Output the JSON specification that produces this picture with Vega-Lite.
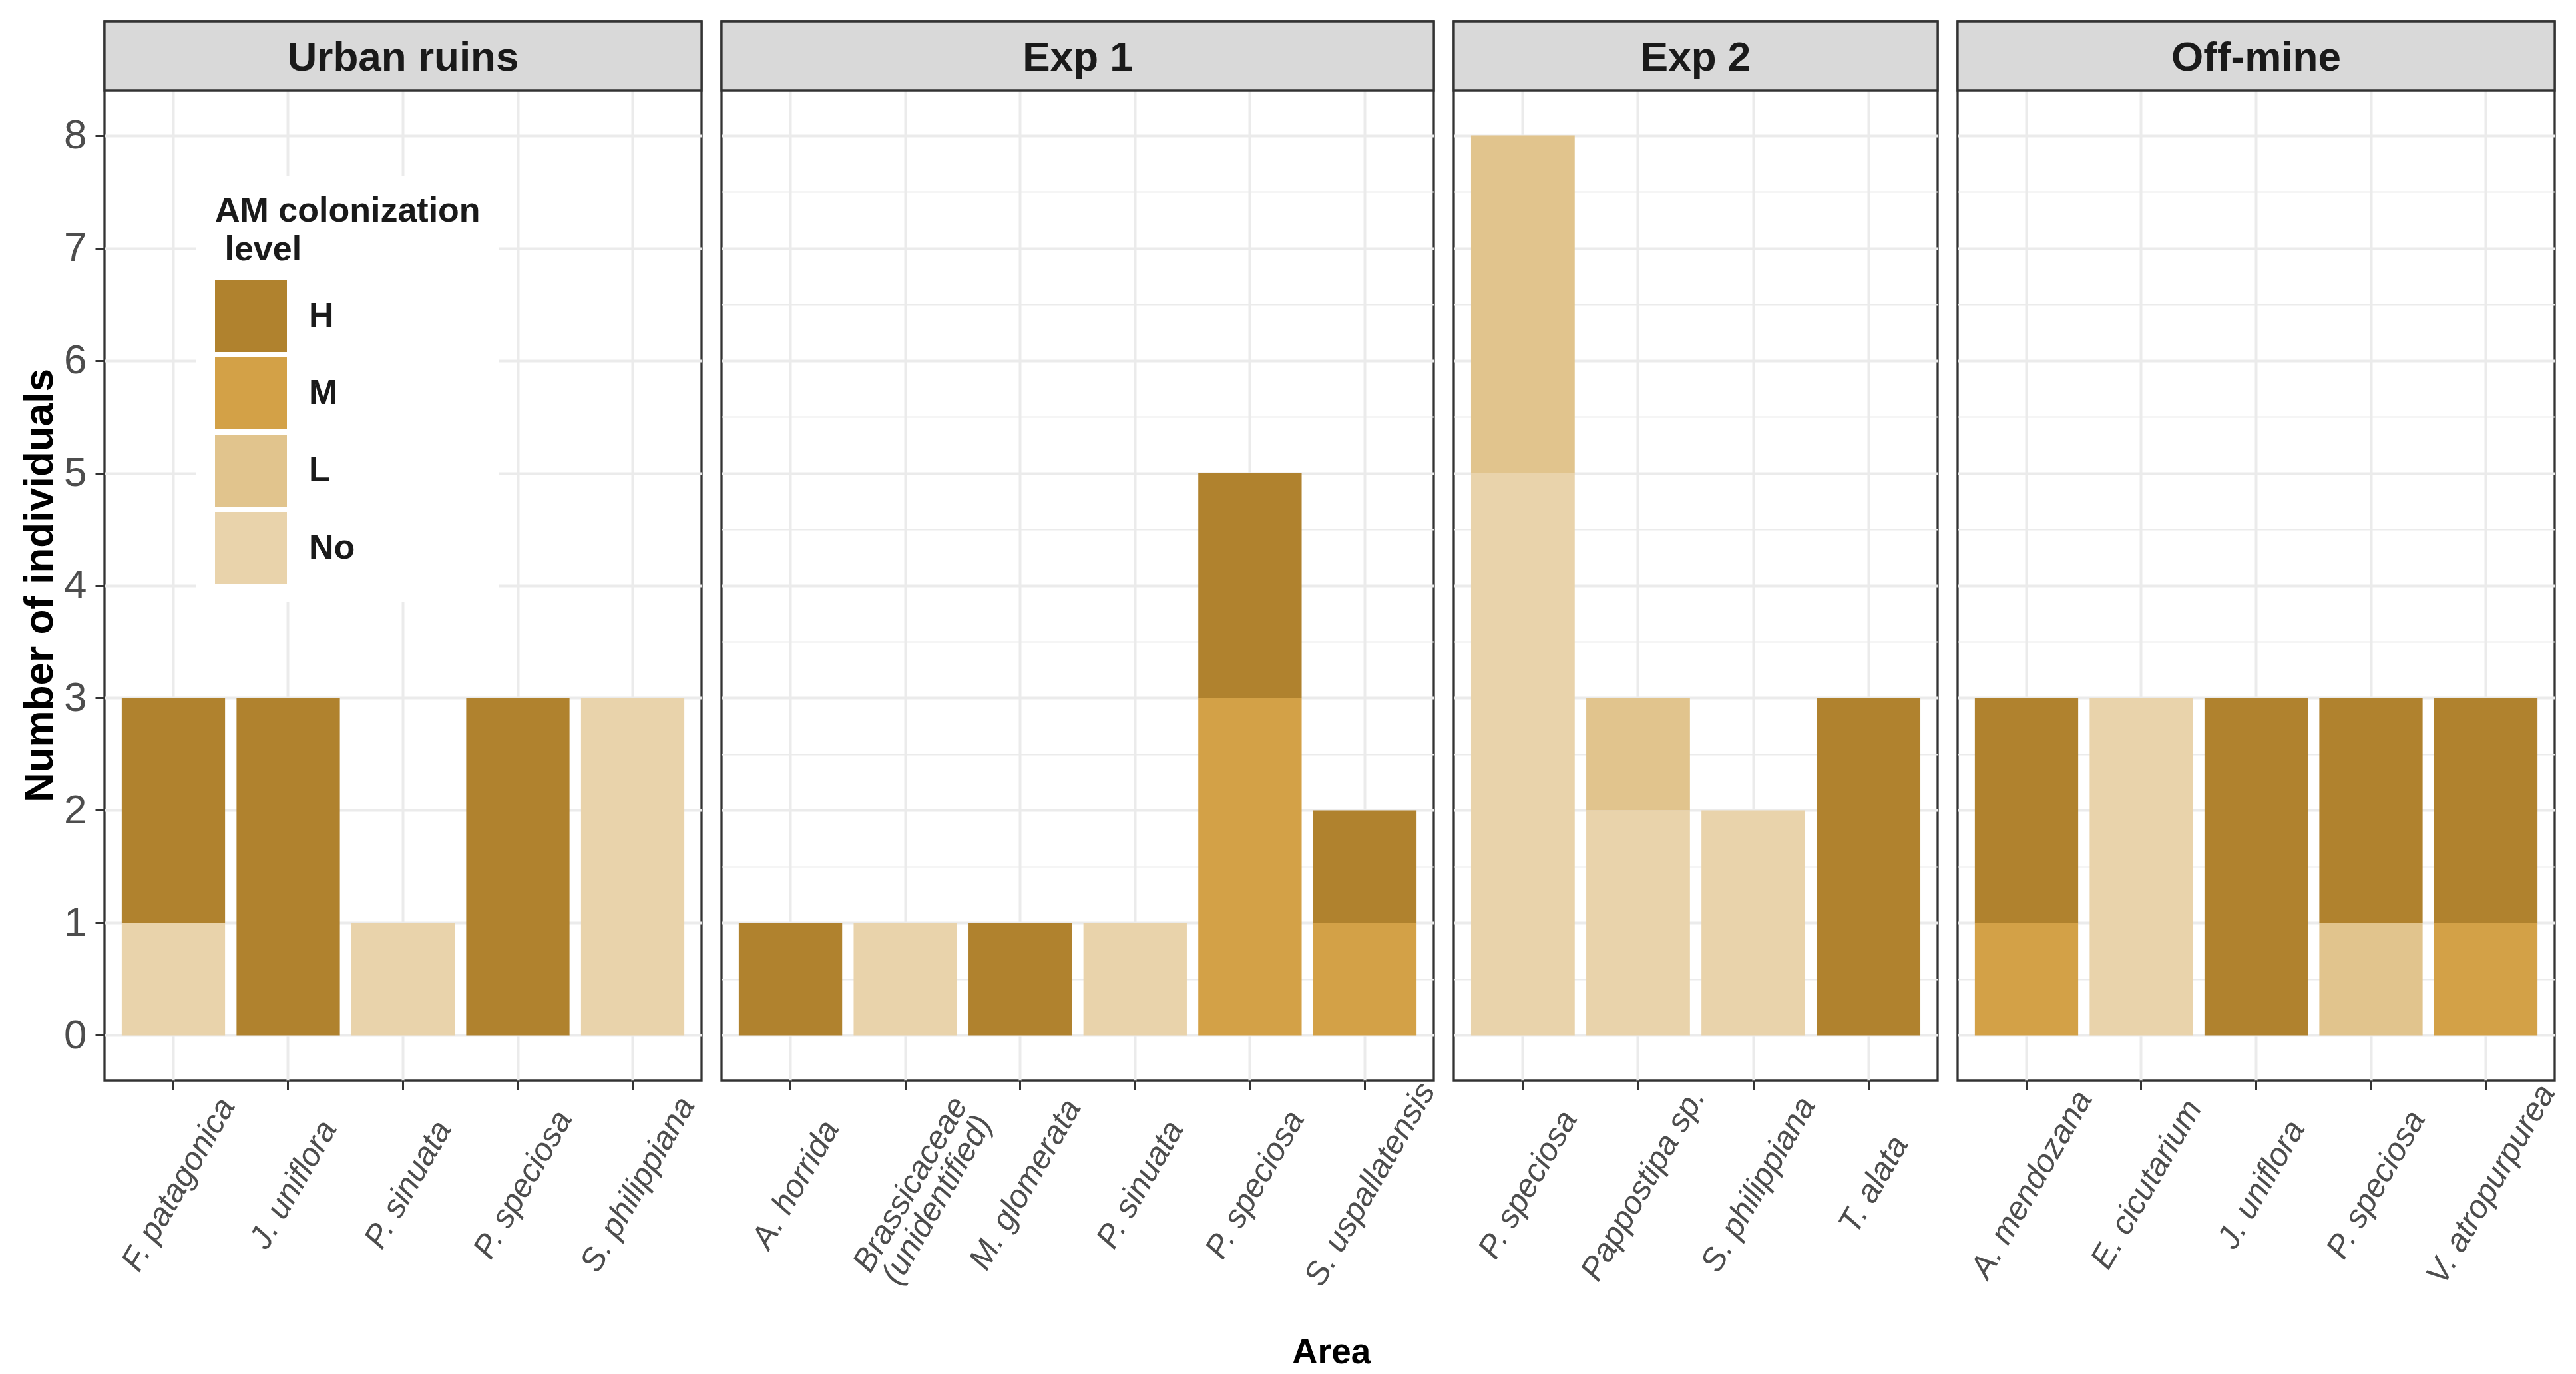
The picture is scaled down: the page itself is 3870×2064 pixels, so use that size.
{
  "$schema": "https://vega.github.io/schema/vega-lite/v6.json",
  "background": "white",
  "padding": {"left": 26, "top": 28, "right": 0, "bottom": 8},
  "bounds": "flush",
  "spacing": 30,
  "title": {"text": "Area", "orient": "bottom", "anchor": "middle", "fontSize": 53, "fontWeight": "bold", "color": "#000000", "offset": 62, "dx": 62, "font": "Liberation Sans"},
  "config": {
    "font": "Liberation Sans",
    "view": {"stroke": "#333333", "strokeWidth": 3.3},
    "axisX": {"title": null, "labelAngle": -60, "labelAlign": "center", "labelBaseline": "middle", "labelPadding": 142, "labelOffset": 8, "labelFontStyle": "italic", "labelFontSize": 49, "labelColor": "#4D4D4D", "labelLineHeight": 46, "labelLimit": 0, "labelOverlap": false, "labelBound": false, "tickSize": 14, "tickWidth": 3, "tickColor": "#333333", "domain": false, "grid": true, "gridColor": "#EBEBEB", "gridWidth": 4, "bandPosition": 0.5},
    "axisY": {"grid": true, "gridColor": "#EBEBEB", "domain": false},
    "text": {"fontSize": 62, "fontWeight": "bold", "color": "#1A1A1A", "baseline": "middle", "align": "center"},
    "rect": {"fill": "#D9D9D9", "stroke": "#333333", "strokeWidth": 3.3}
  },
  "datasets": {
    "counts": [
      {"area": "Urban ruins", "species": "F. patagonica", "level": "No", "count": 1},
      {"area": "Urban ruins", "species": "F. patagonica", "level": "H", "count": 2},
      {"area": "Urban ruins", "species": "J. uniflora", "level": "H", "count": 3},
      {"area": "Urban ruins", "species": "P. sinuata", "level": "No", "count": 1},
      {"area": "Urban ruins", "species": "P. speciosa", "level": "H", "count": 3},
      {"area": "Urban ruins", "species": "S. philippiana", "level": "No", "count": 3},
      {"area": "Exp 1", "species": "A. horrida", "level": "H", "count": 1},
      {"area": "Exp 1", "species": "Brassicaceae (unidentified)", "level": "No", "count": 1},
      {"area": "Exp 1", "species": "M. glomerata", "level": "H", "count": 1},
      {"area": "Exp 1", "species": "P. sinuata", "level": "No", "count": 1},
      {"area": "Exp 1", "species": "P. speciosa", "level": "M", "count": 3},
      {"area": "Exp 1", "species": "P. speciosa", "level": "H", "count": 2},
      {"area": "Exp 1", "species": "S. uspallatensis", "level": "M", "count": 1},
      {"area": "Exp 1", "species": "S. uspallatensis", "level": "H", "count": 1},
      {"area": "Exp 2", "species": "P. speciosa", "level": "No", "count": 5},
      {"area": "Exp 2", "species": "P. speciosa", "level": "L", "count": 3},
      {"area": "Exp 2", "species": "Pappostipa sp.", "level": "No", "count": 2},
      {"area": "Exp 2", "species": "Pappostipa sp.", "level": "L", "count": 1},
      {"area": "Exp 2", "species": "S. philippiana", "level": "No", "count": 2},
      {"area": "Exp 2", "species": "T. alata", "level": "H", "count": 3},
      {"area": "Off-mine", "species": "A. mendozana", "level": "M", "count": 1},
      {"area": "Off-mine", "species": "A. mendozana", "level": "H", "count": 2},
      {"area": "Off-mine", "species": "E. cicutarium", "level": "No", "count": 3},
      {"area": "Off-mine", "species": "J. uniflora", "level": "H", "count": 3},
      {"area": "Off-mine", "species": "P. speciosa", "level": "L", "count": 1},
      {"area": "Off-mine", "species": "P. speciosa", "level": "H", "count": 2},
      {"area": "Off-mine", "species": "V. atropurpurea", "level": "M", "count": 1},
      {"area": "Off-mine", "species": "V. atropurpurea", "level": "H", "count": 2}
    ]
  },
  "hconcat": [
    {
      "width": 897, "height": 1591,
      "layer": [
        {
          "data": {"name": "counts"},
          "transform": [{"filter": "datum.area === 'Urban ruins'"}],
          "mark": {"type": "bar"},
          "encoding": {
            "x": {"field": "species", "type": "nominal", "scale": {"paddingInner": 0.1, "paddingOuter": 0.15}},
            "y": {"field": "count", "type": "quantitative", "stack": "zero",
                  "scale": {"domain": [-0.4, 9.0155], "nice": false, "zero": false},
                  "axis": {"values": [0, 0.5, 1, 1.5, 2, 2.5, 3, 3.5, 4, 4.5, 5, 5.5, 6, 6.5, 7, 7.5, 8],
                           "format": "d",
                           "labelExpr": "datum.value % 1 === 0 ? datum.label : ''",
                           "tickOpacity": {"condition": {"test": "datum.value % 1 !== 0", "value": 0}, "value": 1},
                           "gridWidth": {"condition": {"test": "datum.value % 1 !== 0", "value": 2.2}, "value": 4},
                           "title": "Number of individuals", "titleFontSize": 62, "titleFontWeight": "bold", "titleColor": "#000000", "titlePadding": 4, "titleY": 847,
                           "labelFontSize": 62, "labelColor": "#4D4D4D", "labelPadding": 13,
                           "tickSize": 14, "tickWidth": 3, "tickColor": "#333333"}},
            "color": {"field": "level", "type": "nominal", "sort": ["No", "L", "M", "H"],
                      "scale": {"range": ["#E9D3AB", "#E1C48D", "#D3A147", "#B0822E"]},
                      "legend": {"orient": "none", "legendX": 138, "legendY": 232,
                                 "title": ["AM colonization", "\u200b\u00a0level"], "titleFontSize": 52, "titleFontWeight": "bold", "titleColor": "#1A1A1A", "titleLineHeight": 58, "titlePadding": 19, "titleAnchor": "start", "titleLimit": 0,
                                 "values": ["H", "M", "L", "No"], "symbolType": "square", "symbolSize": 11664, "symbolStrokeWidth": 0, "symbolOpacity": 1,
                                 "labelFontSize": 52, "labelFontWeight": "bold", "labelColor": "#1A1A1A", "labelOffset": 33, "labelLimit": 0,
                                 "rowPadding": 8, "padding": 28, "fillColor": "white"}}
          }
        },
        {
          "data": {"values": [{"area": "Urban ruins"}]},
          "mark": {"type": "rect"},
          "encoding": {"y": {"datum": 8.4}, "y2": {"datum": 9.0155}}
        },
        {
          "data": {"values": [{"area": "Urban ruins"}]},
          "mark": {"type": "text", "dy": 3},
          "encoding": {"y": {"datum": 8.7078}, "text": {"field": "area"}}
        }
      ]
    },
    {
      "width": 1070, "height": 1591,
      "layer": [
        {
          "data": {"name": "counts"},
          "transform": [{"filter": "datum.area === 'Exp 1'"}],
          "mark": {"type": "bar"},
          "encoding": {
            "x": {"field": "species", "type": "nominal", "scale": {"paddingInner": 0.1, "paddingOuter": 0.15},
                  "axis": {"labelExpr": "datum.label === 'Brassicaceae (unidentified)' ? ['Brassicaceae', '(unidentified)'] : datum.label"}},
            "y": {"field": "count", "type": "quantitative", "stack": "zero",
                  "scale": {"domain": [-0.4, 9.0155], "nice": false, "zero": false},
                  "axis": {"values": [0, 0.5, 1, 1.5, 2, 2.5, 3, 3.5, 4, 4.5, 5, 5.5, 6, 6.5, 7, 7.5, 8],
                           "labels": false, "ticks": false, "title": null,
                           "gridWidth": {"condition": {"test": "datum.value % 1 !== 0", "value": 2.2}, "value": 4}}},
            "color": {"field": "level", "type": "nominal", "sort": ["No", "L", "M", "H"],
                      "scale": {"range": ["#E9D3AB", "#E1C48D", "#D3A147", "#B0822E"]},
                      "legend": {"orient": "none", "legendX": 138, "legendY": 232,
                                 "title": ["AM colonization", "\u200b\u00a0level"], "titleFontSize": 52, "titleFontWeight": "bold", "titleColor": "#1A1A1A", "titleLineHeight": 58, "titlePadding": 19, "titleAnchor": "start", "titleLimit": 0,
                                 "values": ["H", "M", "L", "No"], "symbolType": "square", "symbolSize": 11664, "symbolStrokeWidth": 0, "symbolOpacity": 1,
                                 "labelFontSize": 52, "labelFontWeight": "bold", "labelColor": "#1A1A1A", "labelOffset": 33, "labelLimit": 0,
                                 "rowPadding": 8, "padding": 28, "fillColor": "white"}}
          }
        },
        {
          "data": {"values": [{"area": "Exp 1"}]},
          "mark": {"type": "rect"},
          "encoding": {"y": {"datum": 8.4}, "y2": {"datum": 9.0155}}
        },
        {
          "data": {"values": [{"area": "Exp 1"}]},
          "mark": {"type": "text", "dy": 3},
          "encoding": {"y": {"datum": 8.7078}, "text": {"field": "area"}}
        }
      ]
    },
    {
      "width": 727, "height": 1591,
      "layer": [
        {
          "data": {"name": "counts"},
          "transform": [{"filter": "datum.area === 'Exp 2'"}],
          "mark": {"type": "bar"},
          "encoding": {
            "x": {"field": "species", "type": "nominal", "scale": {"paddingInner": 0.1, "paddingOuter": 0.15}},
            "y": {"field": "count", "type": "quantitative", "stack": "zero",
                  "scale": {"domain": [-0.4, 9.0155], "nice": false, "zero": false},
                  "axis": {"values": [0, 0.5, 1, 1.5, 2, 2.5, 3, 3.5, 4, 4.5, 5, 5.5, 6, 6.5, 7, 7.5, 8],
                           "labels": false, "ticks": false, "title": null,
                           "gridWidth": {"condition": {"test": "datum.value % 1 !== 0", "value": 2.2}, "value": 4}}},
            "color": {"field": "level", "type": "nominal", "sort": ["No", "L", "M", "H"],
                      "scale": {"range": ["#E9D3AB", "#E1C48D", "#D3A147", "#B0822E"]},
                      "legend": {"orient": "none", "legendX": 138, "legendY": 232,
                                 "title": ["AM colonization", "\u200b\u00a0level"], "titleFontSize": 52, "titleFontWeight": "bold", "titleColor": "#1A1A1A", "titleLineHeight": 58, "titlePadding": 19, "titleAnchor": "start", "titleLimit": 0,
                                 "values": ["H", "M", "L", "No"], "symbolType": "square", "symbolSize": 11664, "symbolStrokeWidth": 0, "symbolOpacity": 1,
                                 "labelFontSize": 52, "labelFontWeight": "bold", "labelColor": "#1A1A1A", "labelOffset": 33, "labelLimit": 0,
                                 "rowPadding": 8, "padding": 28, "fillColor": "white"}}
          }
        },
        {
          "data": {"values": [{"area": "Exp 2"}]},
          "mark": {"type": "rect"},
          "encoding": {"y": {"datum": 8.4}, "y2": {"datum": 9.0155}}
        },
        {
          "data": {"values": [{"area": "Exp 2"}]},
          "mark": {"type": "text", "dy": 3},
          "encoding": {"y": {"datum": 8.7078}, "text": {"field": "area"}}
        }
      ]
    },
    {
      "width": 897, "height": 1591,
      "layer": [
        {
          "data": {"name": "counts"},
          "transform": [{"filter": "datum.area === 'Off-mine'"}],
          "mark": {"type": "bar"},
          "encoding": {
            "x": {"field": "species", "type": "nominal", "scale": {"paddingInner": 0.1, "paddingOuter": 0.15}},
            "y": {"field": "count", "type": "quantitative", "stack": "zero",
                  "scale": {"domain": [-0.4, 9.0155], "nice": false, "zero": false},
                  "axis": {"values": [0, 0.5, 1, 1.5, 2, 2.5, 3, 3.5, 4, 4.5, 5, 5.5, 6, 6.5, 7, 7.5, 8],
                           "labels": false, "ticks": false, "title": null,
                           "gridWidth": {"condition": {"test": "datum.value % 1 !== 0", "value": 2.2}, "value": 4}}},
            "color": {"field": "level", "type": "nominal", "sort": ["No", "L", "M", "H"],
                      "scale": {"range": ["#E9D3AB", "#E1C48D", "#D3A147", "#B0822E"]},
                      "legend": {"orient": "none", "legendX": 138, "legendY": 232,
                                 "title": ["AM colonization", "\u200b\u00a0level"], "titleFontSize": 52, "titleFontWeight": "bold", "titleColor": "#1A1A1A", "titleLineHeight": 58, "titlePadding": 19, "titleAnchor": "start", "titleLimit": 0,
                                 "values": ["H", "M", "L", "No"], "symbolType": "square", "symbolSize": 11664, "symbolStrokeWidth": 0, "symbolOpacity": 1,
                                 "labelFontSize": 52, "labelFontWeight": "bold", "labelColor": "#1A1A1A", "labelOffset": 33, "labelLimit": 0,
                                 "rowPadding": 8, "padding": 28, "fillColor": "white"}}
          }
        },
        {
          "data": {"values": [{"area": "Off-mine"}]},
          "mark": {"type": "rect"},
          "encoding": {"y": {"datum": 8.4}, "y2": {"datum": 9.0155}}
        },
        {
          "data": {"values": [{"area": "Off-mine"}]},
          "mark": {"type": "text", "dy": 3},
          "encoding": {"y": {"datum": 8.7078}, "text": {"field": "area"}}
        }
      ]
    }
  ]
}
